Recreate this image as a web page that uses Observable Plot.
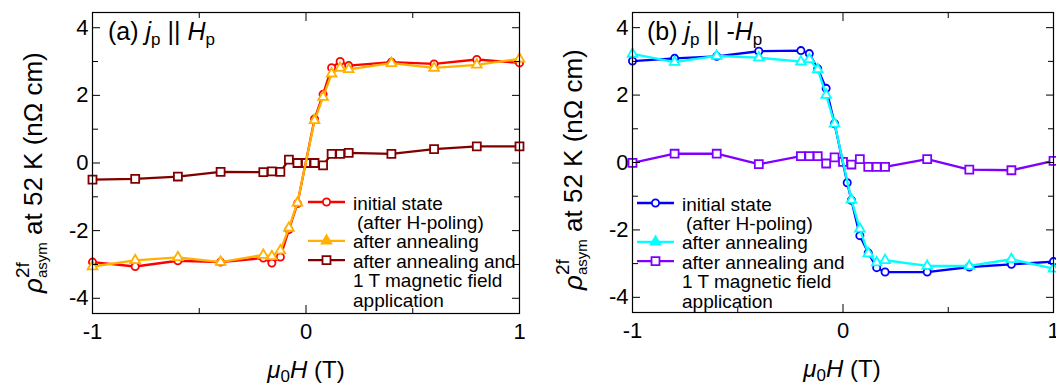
<!DOCTYPE html>
<html><head><meta charset="utf-8">
<script src="https://cdn.jsdelivr.net/npm/d3@7"></script>
<script src="https://cdn.jsdelivr.net/npm/@observablehq/plot@0.6"></script>
<style>
body{margin:0;background:#fff;}
#wrap{position:relative;width:1056px;height:387px;font-family:"Liberation Sans",Arial,sans-serif;}
#wrap svg{position:absolute;top:0;}
</style></head><body><div id="wrap"></div>
<script>
// ---------- data ----------
const xGrid = [-1, -0.8, -0.6, -0.4, -0.2, -0.16, -0.12, -0.08, -0.04, 0.04, 0.08, 0.12, 0.16, 0.2, 0.4, 0.6, 0.8, 1];
const xGrid0 = [-1, -0.8, -0.6, -0.4, -0.2, -0.16, -0.12, -0.08, -0.04, 0, 0.04, 0.08, 0.12, 0.16, 0.2, 0.4, 0.6, 0.8, 1];
const xBlue = [-1, -0.8, -0.6, -0.4, -0.2, -0.16, -0.12, -0.08, -0.04, 0.02, 0.04, 0.08, 0.12, 0.16, 0.2, 0.4, 0.6, 0.8, 1];

// panel (a) j_p || H_p
const aInitial = [-2.93, -3.06, -2.89, -2.93, -2.81, -2.96, -2.78, -1.97, -1.20, 1.30, 2.03, 2.82, 3.00, 2.88, 2.98, 2.93, 3.06, 2.96];
const aAnneal  = [-3.06, -2.88, -2.79, -2.93, -2.72, -2.76, -2.59, -1.92, -1.18, 1.26, 1.95, 2.64, 2.81, 2.77, 2.95, 2.81, 2.90, 3.08];
const aField   = [-0.49, -0.47, -0.40, -0.26, -0.27, -0.25, -0.26, 0.10, 0.00, 0.00, 0.00, -0.07, 0.27, 0.27, 0.30, 0.27, 0.41, 0.49, 0.49];

// panel (b) j_p || -H_p
const bInitial = [3.01, 3.09, 3.15, 3.30, 3.32, 3.23, 2.78, 2.20, 1.15, -0.60, -1.12, -2.17, -2.68, -3.12, -3.25, -3.25, -3.10, -3.02, -2.94];
const bAnneal  = [3.22, 2.98, 3.16, 3.11, 2.99, 3.06, 2.76, 2.00, 1.15, -1.11, -1.97, -2.70, -2.97, -2.90, -3.07, -3.07, -2.87, -3.15];
const bField   = [-0.01, 0.26, 0.26, -0.05, 0.19, 0.19, 0.19, -0.03, 0.15, 0.02, -0.06, 0.10, -0.13, -0.13, -0.13, 0.10, -0.21, -0.23, 0.05];

const yMajor = [-4, -2, 0, 2, 4];
const yMinor = [-3, -1, 1, 3];
const xMajor = [-1, 0, 1];
const xMinor = [-0.5, 0.5];

const legendLines = ["initial state", "(after H-poling)", "after annealing", "after annealing and", "1 T magnetic field", "application"];
const legendIndent = [0, 4, 0, 0, 0, 0];

const colorsA = ["#ff0000", "#ffb000", "#800000"];
const colorsB = ["#0000ff", "#00ffff", "#8000ff"];

// ---------- plotting ----------
const FONT = '"Liberation Sans", Arial, sans-serif';
const fmt = d => String(d);

function series(x, y, color, symbol, r) {
  const data = x.map((v, i) => ({x: v, y: y[i]}));
  return [
    Plot.line(data, {x: "x", y: "y", stroke: color, strokeWidth: 2.3}),
    Plot.dot(data, {x: "x", y: "y", symbol, r, stroke: color, fill: "white", strokeWidth: 1.8})
  ];
}

function axes() {
  return [
    Plot.frame({stroke: "black", strokeWidth: 1.2}),
    Plot.axisY(yMajor, {anchor: "left", tickSize: 0, tickPadding: 4, tickFormat: fmt, label: null, fontSize: 22}),
    Plot.axisY(yMajor, {anchor: "left", tickSize: -8, tickFormat: () => "", label: null}),
    Plot.axisY(yMinor, {anchor: "left", tickSize: -6, tickFormat: () => "", label: null}),
    Plot.axisY(yMajor, {anchor: "right", tickSize: -8, tickFormat: () => "", label: null}),
    Plot.axisY(yMinor, {anchor: "right", tickSize: -6, tickFormat: () => "", label: null}),
    Plot.axisX(xMajor, {anchor: "bottom", tickSize: 0, tickPadding: 10, tickFormat: fmt, label: null, fontSize: 22}),
    Plot.axisX(xMajor, {anchor: "bottom", tickSize: -8, tickFormat: () => "", label: null}),
    Plot.axisX(xMinor, {anchor: "bottom", tickSize: -5, tickFormat: () => "", label: null}),
    Plot.axisX(xMajor, {anchor: "top", tickSize: -8, tickFormat: () => "", label: null}),
    Plot.axisX(xMinor, {anchor: "top", tickSize: -5, tickFormat: () => "", label: null})
  ];
}

function panel(marks, mL, mR, mB) {
  return Plot.plot({
    width: 528, height: 387,
    marginLeft: mL, marginRight: mR, marginTop: 12, marginBottom: mB,
    x: {domain: [-1, 1]},
    y: {domain: [-4.45, 4.45]},
    style: {fontFamily: FONT, fontSize: "22px", color: "black", background: "transparent", overflow: "visible"},
    marks: [...marks, ...axes()]
  });
}

const plotA = panel([
  ...series(xGrid0, aField, colorsA[2], "square", 4.5),
  ...series(xGrid, aInitial, colorsA[0], "circle", 3.6),
  ...series(xGrid, aAnneal, colorsA[1], "triangle", 3.6)
], 92, 9, 74);

const plotB = panel([
  ...series(xGrid0, bField, colorsB[2], "square", 4.5),
  ...series(xBlue, bInitial, colorsB[0], "circle", 3.6),
  ...series(xGrid, bAnneal, colorsB[1], "triangle", 3.6)
], 104, 3, 75);

const wrap = document.getElementById("wrap");
plotA.style.left = "0px";
plotB.style.left = "528px";
wrap.appendChild(plotA);
wrap.appendChild(plotB);

// ---------- annotations ----------
const ov = d3.select(wrap).append("svg")
  .attr("width", 1056).attr("height", 387)
  .style("left", "0px")
  .style("font-family", FONT)
  .style("white-space", "pre");

function panelLabel(x, y, letter, neg) {
  const t = ov.append("text").attr("x", x).attr("y", y).attr("font-size", 25);
  t.append("tspan").text(`(${letter}) `);
  t.append("tspan").attr("font-style", "italic").text("j");
  t.append("tspan").attr("font-size", 17).attr("dy", 5).text("p");
  t.append("tspan").attr("dy", -5).text(neg ? " || -" : " || ");
  t.append("tspan").attr("font-style", "italic").text("H");
  t.append("tspan").attr("font-size", 17).attr("dy", 5).text("p");
}
function yTitle(x, y) {
  const t = ov.append("text").attr("transform", `translate(${x},${y}) rotate(-90)`).attr("font-size", 26);
  t.append("tspan").attr("font-style", "italic").text("ρ");
  t.append("tspan").attr("font-size", 19).attr("dy", -13).text("2f");
  t.append("tspan").attr("font-size", 15).attr("dx", -15.8).attr("dy", 18).text("asym");
  t.append("tspan").attr("dy", -5).text(" at 52 K (nΩ cm)");
}
function xTitle(cx, y) {
  const t = ov.append("text").attr("x", cx).attr("y", y).attr("text-anchor", "middle").attr("font-size", 24);
  t.append("tspan").attr("font-style", "italic").text("μ");
  t.append("tspan").attr("font-size", 17).attr("dy", 4).text("0");
  t.append("tspan").attr("dy", -4).attr("font-style", "italic").text("H");
  t.append("tspan").text(" (T)");
}
function legend(x0, y0, colors) {
  const step = 19.4;
  const samples = [
    {row: 0, color: colors[0], sym: d3.symbolCircle, r: 3.6, fill: "white"},
    {row: 2, color: colors[1], sym: d3.symbolTriangle, r: 3.6, fill: colors[1]},
    {row: 3, color: colors[2], sym: d3.symbolSquare, r: 4.5, fill: "white"}
  ];
  for (const s of samples) {
    const y = y0 + s.row * step;
    ov.append("line").attr("x1", x0).attr("x2", x0 + 37).attr("y1", y).attr("y2", y)
      .attr("stroke", s.color).attr("stroke-width", 2.3);
    ov.append("path").attr("d", d3.symbol(s.sym, Math.PI * s.r * s.r)())
      .attr("transform", `translate(${x0 + 18.5},${y})`)
      .attr("fill", s.fill).attr("stroke", s.color).attr("stroke-width", 1.8);
  }
  legendLines.forEach((txt, i) => {
    ov.append("text").attr("x", x0 + 45 + legendIndent[i]).attr("y", y0 + i * step + 7.5)
      .attr("font-size", 19).text(txt);
  });
}

panelLabel(108, 40, "a", false);
panelLabel(647, 40, "b", true);
yTitle(42, 293);
yTitle(582, 290);
xTitle(306, 378);
xTitle(842, 377);
legend(308, 202, colorsA);
legend(637, 203, colorsB);
</script></body></html>
